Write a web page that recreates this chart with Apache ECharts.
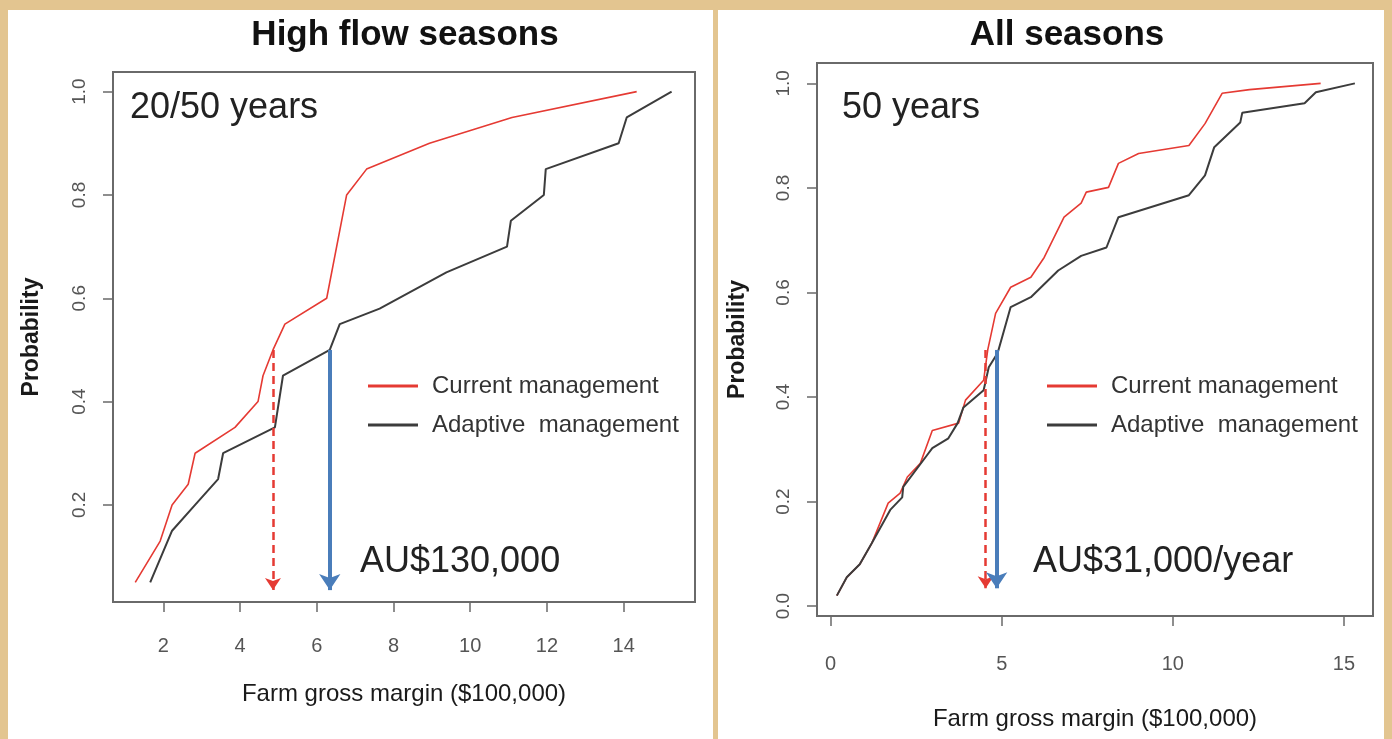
<!DOCTYPE html>
<html>
<head>
<meta charset="utf-8">
<script src="https://cdn.jsdelivr.net/npm/echarts@6/dist/echarts.min.js"></script>
<style>
  html, body { margin: 0; padding: 0; background: #E3C590; }
  #chart { width: 1392px; height: 739px; }
</style>
</head>
<body>
<div id="chart"></div>
<script>
// Cumulative probability of farm gross margin ($100,000) under two management regimes

// High flow seasons (20 of 50 years)
const highCurrent = [[1.27,0.05],[1.92,0.13],[2.23,0.20],[2.65,0.24],[2.83,0.30],[3.87,0.35],[4.47,0.40],[4.60,0.45],[4.86,0.50],[5.17,0.55],[6.26,0.60],[6.78,0.80],[7.30,0.85],[8.94,0.90],[11.09,0.95],[14.34,1.00]];
const highAdaptive = [[1.66,0.05],[2.23,0.15],[2.83,0.20],[3.43,0.25],[3.56,0.30],[4.91,0.35],[5.12,0.45],[6.34,0.50],[6.60,0.55],[7.64,0.58],[9.38,0.65],[10.96,0.70],[11.06,0.75],[11.92,0.80],[11.97,0.85],[13.87,0.90],[14.08,0.95],[15.25,1.00]];

// All seasons (50 years)
const allCurrent = [[0.18,0.02],[0.47,0.055],[0.85,0.08],[1.20,0.12],[1.68,0.197],[2.03,0.216],[2.24,0.247],[2.62,0.273],[2.97,0.336],[3.74,0.35],[3.94,0.394],[4.47,0.432],[4.59,0.49],[4.82,0.56],[5.26,0.61],[5.85,0.629],[6.24,0.667],[6.82,0.744],[7.32,0.771],[7.47,0.792],[8.12,0.801],[8.41,0.847],[9.00,0.866],[10.47,0.881],[10.94,0.923],[11.44,0.981],[12.24,0.988],[14.32,1.00]];
const allAdaptive = [[0.18,0.02],[0.47,0.055],[0.85,0.08],[1.20,0.12],[1.74,0.184],[2.09,0.208],[2.12,0.228],[2.82,0.289],[2.97,0.302],[3.44,0.321],[3.71,0.35],[3.88,0.38],[4.47,0.413],[4.62,0.457],[4.88,0.484],[5.26,0.572],[5.85,0.591],[6.65,0.642],[7.32,0.67],[8.06,0.686],[8.41,0.744],[10.47,0.786],[10.94,0.824],[11.21,0.878],[11.97,0.925],[12.03,0.944],[13.85,0.962],[14.18,0.983],[15.32,1.00]];

// Median gross margin arrows: [x, fromProbability, toProbability]
const highArrowCurrent = [4.86, 0.50, 0.035];
const highArrowAdaptive = [6.34, 0.50, 0.035];
const allArrowCurrent = [4.53, 0.49, 0.034];
const allArrowAdaptive = [4.85, 0.49, 0.034];

// Tick values
const highXTicks = [2, 4, 6, 8, 10, 12, 14];
const highYTicks = [0.2, 0.4, 0.6, 0.8, 1.0];
const allXTicks = [0, 5, 10, 15];
const allYTicks = [0.0, 0.2, 0.4, 0.6, 0.8, 1.0];

const seriesNames = ['Current management', 'Adaptive  management'];
const panelTitles = ['High flow seasons', 'All seasons'];
const yearNotes = ['20/50 years', '50 years'];
const gainNotes = ['AU$130,000', 'AU$31,000/year'];
const xName = 'Farm gross margin ($100,000)';
const yName = 'Probability';

const FONT = '"Liberation Sans", Arial, sans-serif';
const RED = '#E53A33';
const DARK = '#3C3C3C';
const BLUE = '#4A7DBA';
const FRAME = '#6A6A6A';

function xAxis(gridIndex, min, max, ticks, labelMargin, nameGap) {
  return {
    type: 'value', gridIndex, min, max,
    axisLine: { show: false, onZero: false },
    splitLine: { show: false },
    axisTick: { show: true, inside: false, length: 10, customValues: ticks, lineStyle: { color: FRAME, width: 1.5 } },
    axisLabel: { customValues: ticks, margin: labelMargin, color: '#555', fontSize: 20, fontFamily: FONT },
    name: xName, nameLocation: 'middle', nameGap,
    nameTextStyle: { color: '#1a1a1a', fontSize: 24, fontFamily: FONT }
  };
}
function yAxis(gridIndex, min, max, ticks, labelMargin, nameGap) {
  return {
    type: 'value', gridIndex, min, max,
    axisLine: { show: false, onZero: false },
    splitLine: { show: false },
    axisTick: { show: true, inside: false, length: 10, customValues: ticks, lineStyle: { color: FRAME, width: 1.5 } },
    axisLabel: { customValues: ticks, margin: labelMargin, rotate: 90, color: '#555', fontSize: 19, fontFamily: FONT,
      formatter: v => Number(v).toFixed(1) },
    name: yName, nameLocation: 'middle', nameGap, nameRotate: 90,
    nameTextStyle: { color: '#1a1a1a', fontSize: 23, fontWeight: 'bold', fontFamily: FONT }
  };
}
function curve(name, data, idx, color, width) {
  return {
    type: 'line', name, data, xAxisIndex: idx, yAxisIndex: idx,
    showSymbol: false, symbol: 'none', silent: true, animation: false,
    lineStyle: { color, width }, itemStyle: { color }
  };
}
function arrow(a, idx, color, width, dashed, size) {
  return {
    type: 'line', data: [], xAxisIndex: idx, yAxisIndex: idx, silent: true, animation: false,
    markLine: {
      silent: true, animation: false,
      symbol: ['none', 'arrow'], symbolSize: size,
      label: { show: false },
      lineStyle: { color, width, type: dashed ? [8, 5] : 'solid' },
      data: [[{ coord: [a[0], a[1]] }, { coord: [a[0], a[2]] }]]
    }
  };
}
function legend(left) {
  return {
    data: seriesNames, orient: 'vertical', left, top: 374, padding: 0,
    itemWidth: 50, itemHeight: 3, itemGap: 15, icon: 'rect', selectedMode: false,
    textStyle: { color: '#333', fontSize: 24, fontFamily: FONT, padding: [0, 0, 0, 9] }
  };
}

const chart = echarts.init(document.getElementById('chart'), null, { renderer: 'canvas' });

const option = {
  animation: false,
  backgroundColor: '#E3C590',
  grid: [
    { left: 113, top: 72, width: 582, height: 530, show: true, borderColor: FRAME, borderWidth: 2, backgroundColor: 'transparent' },
    { left: 817, top: 63, width: 556, height: 553, show: true, borderColor: FRAME, borderWidth: 2, backgroundColor: 'transparent' }
  ],
  xAxis: [
    xAxis(0, 0.69, 15.86, highXTicks, 34, 80),
    xAxis(1, -0.4, 15.85, allXTicks, 38, 91)
  ],
  yAxis: [
    yAxis(0, 0.012, 1.038, highYTicks, 24, 70),
    yAxis(1, -0.019, 1.039, allYTicks, 24, 68)
  ],
  legend: [legend(368), legend(1047)],
  graphic: [
    // white panels
    { type: 'rect', z: -10, shape: { x: 8, y: 10, width: 705, height: 729 }, style: { fill: '#ffffff' }, silent: true },
    { type: 'rect', z: -10, shape: { x: 718, y: 10, width: 666, height: 729 }, style: { fill: '#ffffff' }, silent: true },
    // panel titles
    { type: 'text', x: 405, y: 35, style: { text: panelTitles[0], fill: '#111', font: 'bold 35px ' + FONT, textAlign: 'center', textVerticalAlign: 'middle' } },
    { type: 'text', x: 1067, y: 35, style: { text: panelTitles[1], fill: '#111', font: 'bold 35px ' + FONT, textAlign: 'center', textVerticalAlign: 'middle' } },
    // in-plot notes
    { type: 'text', x: 130, y: 108, style: { text: yearNotes[0], fill: '#222', font: '36px ' + FONT, textVerticalAlign: 'middle' } },
    { type: 'text', x: 842, y: 108, style: { text: yearNotes[1], fill: '#222', font: '36px ' + FONT, textVerticalAlign: 'middle' } },
    { type: 'text', x: 360, y: 562, style: { text: gainNotes[0], fill: '#222', font: '36px ' + FONT, textVerticalAlign: 'middle' } },
    { type: 'text', x: 1033, y: 562, style: { text: gainNotes[1], fill: '#222', font: '36px ' + FONT, textVerticalAlign: 'middle' } }
  ],
  series: [
    curve(seriesNames[0], highCurrent, 0, RED, 1.6),
    curve(seriesNames[1], highAdaptive, 0, DARK, 2),
    curve(seriesNames[0], allCurrent, 1, RED, 1.6),
    curve(seriesNames[1], allAdaptive, 1, DARK, 2),
    arrow(highArrowCurrent, 0, RED, 2.5, true, 12),
    arrow(highArrowAdaptive, 0, BLUE, 4, false, 16),
    arrow(allArrowCurrent, 1, RED, 2.5, true, 12),
    arrow(allArrowAdaptive, 1, BLUE, 4, false, 16)
  ]
};
chart.setOption(option);
</script>
</body>
</html>
